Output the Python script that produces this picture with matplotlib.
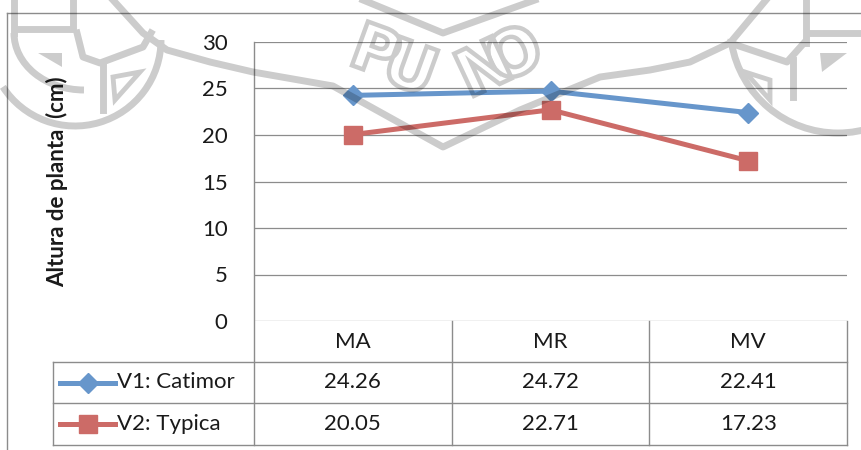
import numpy as np
import matplotlib
matplotlib.use("Agg")
import matplotlib.pyplot as plt
from matplotlib.lines import Line2D
from matplotlib.patches import Arc, Polygon, PathPatch
from matplotlib.textpath import TextPath
from matplotlib.font_manager import FontProperties
from matplotlib.transforms import Affine2D

# ---- data -------------------------------------------------------------
categories = ["MA", "MR", "MV"]
series_names = ["V1: Catimor", "V2: Typica"]
catimor = [24.26, 24.72, 22.41]
typica = [20.05, 22.71, 17.23]
y_ticks = [0, 5, 10, 15, 20, 25, 30]
y_label = "Altura de planta  (cm)"

# ---- style --------------------------------------------------------------
W, H = 861, 450
plt.rcParams['font.family'] = ['Lato', 'DejaVu Sans']
BLUE = '#6796CB'
RED = '#CC6B67'
GRID = '#8c8c8c'
TXT = '#1a1a1a'
FS = 16

fig = plt.figure(figsize=(W / 100, H / 100), dpi=100)
fig.patch.set_facecolor('white')

fg = fig.add_axes([0, 0, 1, 1], zorder=2)
fg.set_xlim(0, W); fg.set_ylim(H, 0); fg.axis('off')
fg.patch.set_alpha(0)

# ---- plot area ----------------------------------------------------------
PL, PR, PT, PB = 254, 847, 42, 321
ax = fig.add_axes([PL / W, 1 - PB / H, (PR - PL) / W, (PB - PT) / H], zorder=1)
ax.patch.set_alpha(0)
x = list(range(len(categories)))
ax.set_xlim(-0.5, len(categories) - 0.5)
ax.set_ylim(y_ticks[0], y_ticks[-1])
ax.set_yticks(y_ticks)
ax.set_xticks([])
ax.tick_params(axis='y', length=0, pad=19, labelsize=FS, labelcolor=TXT)
ax.yaxis.grid(True, color=GRID, lw=0.9)
ax.set_axisbelow(True)
for s in ax.spines.values():
    s.set_visible(False)

ax.plot(x, catimor, color=BLUE, lw=3.6, marker='D', ms=10.5,
        mfc=BLUE, mec=BLUE, zorder=3)
ax.plot(x, typica, color=RED, lw=3.6, marker='s', ms=13.5,
        mfc=RED, mec=RED, zorder=3)

fig.text(57.5 / W, 1 - 181.5 / H, y_label, rotation=90, ha='center', va='center',
         fontsize=FS, fontweight='bold', color=TXT)

# ---- chart frame --------------------------------------------------------
fg.plot([7, W], [13, 13], color=GRID, lw=1.0)
fg.plot([7, 7], [13, H], color=GRID, lw=1.0)

# ---- data table ---------------------------------------------------------
LX = 53
rows_y = [PB, 362, 403, 445]
col_w = (PR - PL) / len(categories)
cols_x = [PL + i * col_w for i in range(len(categories) + 1)]

for yy in rows_y[1:]:
    fg.plot([LX, PR], [yy, yy], color=GRID, lw=1.0)
fg.plot([LX, LX], [rows_y[1], rows_y[-1]], color=GRID, lw=1.0)
fg.plot([PL, PL], [PT, rows_y[-1]], color=GRID, lw=1.0)
for cx in cols_x[1:]:
    fg.plot([cx, cx], [PB, rows_y[-1]], color=GRID, lw=1.0)

for i, cat in enumerate(categories):
    cx = (cols_x[i] + cols_x[i + 1]) / 2
    fg.text(cx, (rows_y[0] + rows_y[1]) / 2, cat, ha='center', va='center',
            fontsize=FS, color=TXT)

for r, (name, vals, col, mk, ms) in enumerate([
        (series_names[0], catimor, BLUE, 'D', 10.5),
        (series_names[1], typica, RED, 's', 13.5)]):
    cy = (rows_y[r + 1] + rows_y[r + 2]) / 2
    fg.add_line(Line2D([60, 115], [cy, cy], color=col, lw=3.6))
    fg.add_line(Line2D([87.5], [cy], marker=mk, ms=ms, color=col, mec=col))
    fg.text(117, cy, name, ha='left', va='center', fontsize=FS, color=TXT)
    for i, v in enumerate(vals):
        cx = (cols_x[i] + cols_x[i + 1]) / 2
        fg.text(cx, cy, f"{v:.2f}", ha='center', va='center', fontsize=FS, color=TXT)

# ---- faint seal watermark (rendered off-screen, laid on as a shading) ----
wfig = plt.figure(figsize=(W / 100, H / 100), dpi=100)
wfig.patch.set_facecolor('white')
wax = wfig.add_axes([0, 0, 1, 1])
wax.set_xlim(0, W); wax.set_ylim(H, 0); wax.axis('off')
K = 'black'
lw_wm = 5.0

band = [(113, 0), (143, 33), (167, 50), (210, 62), (253, 72), (333, 86),
        (443, 147), (520, 110), (600, 77), (650, 70), (690, 62), (730, 43),
        (766, 0)]
wax.plot(*zip(*band), color=K, lw=lw_wm)
wax.plot([363, 443, 535], [0, 33, 0], color=K, lw=lw_wm)

fp = FontProperties(family='DejaVu Sans', weight='bold')
for ch, cx, cy, rot in [("P", 378, 50, 20), ("U", 411, 66, 20),
                        ("N", 483, 66, -25), ("O", 513, 52, -25)]:
    tp = TextPath((0, 0), ch, size=64, prop=fp)
    ext = tp.get_extents()
    tr = (Affine2D().translate(-(ext.x0 + ext.x1) / 2, -(ext.y0 + ext.y1) / 2)
          .scale(1, -1).rotate_deg(rot).translate(cx, cy))
    wax.add_patch(PathPatch(tr.transform_path(tp), facecolor='none',
                            edgecolor=K, lw=3.2))

# left seal fragment
wax.plot([14, 14], [0, 33], color=K, lw=lw_wm)
wax.add_patch(Arc((84, 33), 140, 114, theta1=90, theta2=180, ec=K, lw=lw_wm))
wax.add_patch(Arc((75, 40), 172, 172, theta1=0, theta2=147, ec=K, lw=lw_wm))
wax.plot([15, 73, 73], [29, 29, 0], color=K, lw=lw_wm)
wax.add_patch(Polygon([(38, 53), (62, 53), (62, 67)], closed=True, fc=K, ec='none'))
wax.plot([77, 83, 100, 143, 151], [33, 57, 63, 47, 33], color=K, lw=lw_wm)
wax.plot([103, 103], [63, 110], color=K, lw=lw_wm)
wax.add_patch(Polygon([(113, 77), (140, 72), (115, 100)], closed=True,
                      fill=False, ec=K, lw=3.5))

# right seal fragment
wax.plot([806, 806], [0, 43], color=K, lw=lw_wm)
wax.plot([810, 861], [33, 33], color=K, lw=lw_wm)
wax.add_patch(Polygon([(820, 53), (847, 53), (822, 72)], closed=True, fc=K, ec='none'))
wax.plot([730, 787, 804], [43, 62, 43], color=K, lw=lw_wm)
wax.plot([793, 793], [60, 97], color=K, lw=lw_wm)
wax.add_patch(Polygon([(745, 72), (770, 80), (770, 100)], closed=True,
                      fill=False, ec=K, lw=3.5))
wax.add_patch(Arc((838, 25), 216, 216, theta1=10, theta2=170, ec=K, lw=lw_wm))

wfig.canvas.draw()
gray = np.asarray(wfig.canvas.buffer_rgba())[..., 0].astype(float) / 255.0
plt.close(wfig)
shade = np.zeros((H, W, 4))
shade[..., 3] = (1.0 - gray) * 0.2

top = fig.add_axes([0, 0, 1, 1], zorder=5)
top.set_xlim(0, W); top.set_ylim(H, 0); top.axis('off')
top.patch.set_alpha(0)
top.imshow(shade, extent=(0, W, H, 0), aspect='auto', interpolation='nearest')

fig.savefig("out.png", dpi=100, facecolor='white')
